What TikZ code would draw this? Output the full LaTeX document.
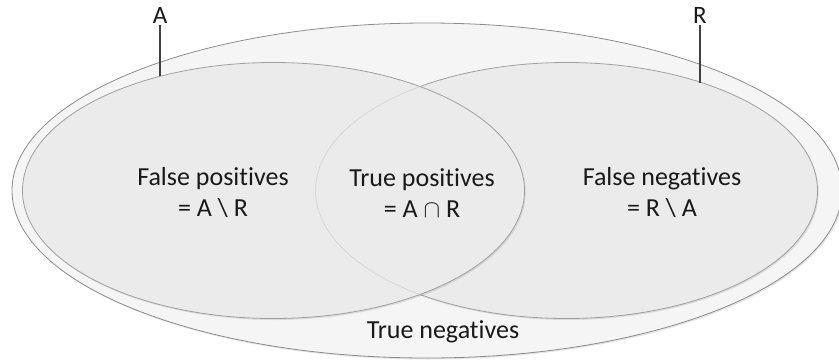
\documentclass[tikz,border=0pt]{standalone}
\usepackage{fontspec}
\setmainfont{Carlito}[RawFeature={-liga}]
\usetikzlibrary{shapes.geometric,shadows}
\definecolor{outerfill}{HTML}{F5F5F5}
\definecolor{outerline}{HTML}{8C8C8C}
\definecolor{setfill}{HTML}{EBEBEB}
\definecolor{setline}{HTML}{A0A0A0}
\definecolor{hiddenline}{HTML}{D6D6D6}
\definecolor{leader}{HTML}{404040}
\begin{document}
\begin{tikzpicture}[x=1pt,y=-1pt,
  region/.style={ellipse, inner sep=0pt, outer sep=0pt},
  softshadow/.style={drop shadow={shadow xshift=1.2pt, shadow yshift=-1.5pt, opacity=0.1, fill=black}},
  universe/.style={region, draw=outerline, fill=outerfill, line width=0.8pt,
    minimum width=830pt, minimum height=335pt, softshadow},
  setshape/.style={region, draw=setline, fill=setfill, line width=0.8pt,
    minimum width=502pt, minimum height=256pt, softshadow},
  areatext/.style={font=\fontsize{26}{31}\selectfont, text=black!90, align=center, inner sep=0pt},
  setname/.style={font=\fontsize{25}{30}\selectfont, text=black!90, inner sep=2pt, anchor=base},
  leaderline/.style={draw=leader, line width=1.5pt}]
\useasboundingbox (0,0) rectangle (839,360);

% universe and the two sets
\node[universe] (U) at (427,190.5) {};
\node[setshape] (Rset) at (566.5,190.5) {};
\node[setshape] (Aset) at (273.5,190.5) {};

% edge of R seen faintly through A
\begin{scope}
  \clip (Aset.center) ellipse [x radius=250.6pt, y radius=127.6pt];
  \draw[hiddenline, line width=0.8pt] (Rset.center) ellipse [x radius=251pt, y radius=128pt];
\end{scope}

% region labels
\node[areatext] (fp) at (213,193) {False positives\\= A \textbackslash{} R};
\node[areatext] (tp) at (422,193) {True positives\\= A \ensuremath{\cap} R};
\node[areatext] (fn) at (662,193) {False negatives\\= R \textbackslash{} A};
\node[areatext] (tn) at (443,332) {True negatives};

% set names with leader lines
\node[setname] (labA) at (160,23) {A};
\node[setname] (labR) at (700,23) {R};
\draw[leaderline] (labA.south) -- (labA.south |- Aset.134.75);
\draw[leaderline] (labR.south) -- (labR.south |- Rset.38.8);
\end{tikzpicture}
\end{document}
